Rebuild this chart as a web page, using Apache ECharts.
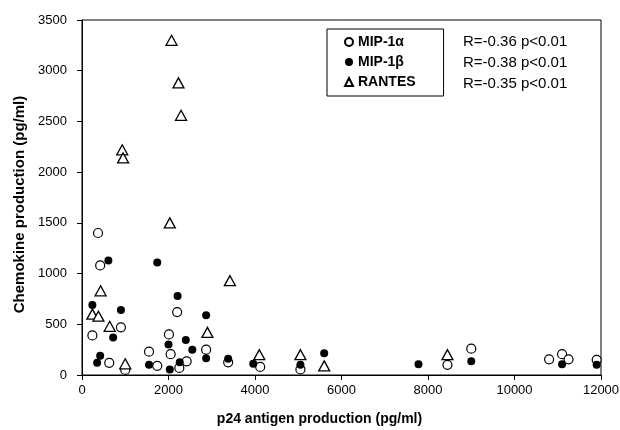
<!DOCTYPE html>
<html><head><meta charset="utf-8">
<script src="https://cdn.jsdelivr.net/npm/echarts@6/dist/echarts.min.js"></script>
<style>html,body{margin:0;padding:0;background:#fff}#c{width:620px;height:430px}</style>
</head><body><div id="c"></div>
<script>
// MIP-1alpha (open circles): [p24, chemokine]
var mip1a = [[240,390],[630,120],[900,470],[1000,50],[1550,230],[1740,90],[2010,400],[2050,205],[2200,620],[2250,70],[2420,135],[2870,250],[3380,125],[4120,80],[5050,55],[370,1400],[420,1080],[8450,100],[9000,260],[10800,155],[11100,205],[11250,155],[11900,150]];
// MIP-1beta (filled circles)
var mip1b = [[240,690],[900,640],[720,370],[420,190],[350,120],[1550,100],[2000,300],[2030,55],[2210,780],[2260,125],[2400,345],[2550,250],[2870,590],[2870,165],[3380,160],[3960,110],[5050,100],[5600,215],[610,1130],[1740,1110],[7780,105],[9000,135],[11100,105],[11900,100]];
// RANTES (open triangles)
var rantes = [[430,830],[240,600],[380,580],[640,480],[2900,420],[1000,110],[4100,200],[5050,200],[5600,90],[2030,1500],[3420,930],[2070,3300],[2230,2880],[2290,2560],[930,2220],[950,2140],[8450,200]];
var seriesNames = ['MIP-1\u03b1','MIP-1\u03b2','RANTES'];
var rLabels = ['R=-0.36 p<0.01','R=-0.38 p<0.01','R=-0.35 p<0.01'];
var xTitle = 'p24 antigen production (pg/ml)';
var yTitle = 'Chemokine production (pg/ml)';

var chart = echarts.init(document.getElementById('c'), null, {renderer:'canvas'});
var font = 'Liberation Sans, Arial, sans-serif';
function plain(v){return String(v);}
chart.setOption({
  animation:false,
  backgroundColor:'#fff',
  grid:{left:82,right:19,top:20,bottom:55,containLabel:false,outerBoundsMode:'none',
    show:true,borderColor:'#000',borderWidth:1,backgroundColor:'transparent'},
  xAxis:{type:'value',min:0,max:12000,interval:2000,
    name:xTitle,nameLocation:'middle',nameGap:37,
    nameTextStyle:{fontFamily:font,fontWeight:'bold',fontSize:14,color:'#000',padding:[0,44,0,0]},
    axisLine:{show:true,lineStyle:{color:'#000',width:1}},
    axisTick:{show:true,inside:false,length:5,lineStyle:{color:'#000'}},
    axisLabel:{fontFamily:font,fontSize:13,color:'#000',margin:9,formatter:plain},
    splitLine:{show:false}},
  yAxis:{type:'value',min:0,max:3500,interval:500,
    name:yTitle,nameLocation:'middle',nameGap:51,
    nameTextStyle:{fontFamily:font,fontWeight:'bold',fontSize:15,color:'#000',padding:[0,14,0,0]},
    axisLine:{show:true,lineStyle:{color:'#000',width:1}},
    axisTick:{show:true,inside:false,length:5,lineStyle:{color:'#000'}},
    axisLabel:{fontFamily:font,fontSize:13,color:'#000',margin:15,formatter:plain},
    splitLine:{show:false}},
  legend:{left:327,top:29,orient:'vertical',width:118,
    borderColor:'#000',borderWidth:1,padding:[6,28,7,17],itemGap:6,
    itemWidth:8,itemHeight:8,
    textStyle:{fontFamily:font,fontWeight:'bold',fontSize:14,color:'#000'},
    data:seriesNames},
  graphic:rLabels.map(function(t,i){return {type:'text',left:463,top:34+i*21,
    style:{text:t,font:'15px '+font,fill:'#000'}};}),
  series:[
    {name:seriesNames[0],type:'scatter',data:mip1a,symbol:'circle',symbolSize:9,
      itemStyle:{color:'#fff',borderColor:'#000',borderWidth:1.2,opacity:1}},
    {name:seriesNames[1],type:'scatter',data:mip1b,symbol:'circle',symbolSize:8,
      itemStyle:{color:'#000',borderColor:'#000',borderWidth:0,opacity:1}},
    {name:seriesNames[2],type:'scatter',data:rantes,symbol:'triangle',symbolSize:[11,10],
      itemStyle:{color:'#fff',borderColor:'#000',borderWidth:1.3,opacity:1}}
  ]
});
</script></body></html>
